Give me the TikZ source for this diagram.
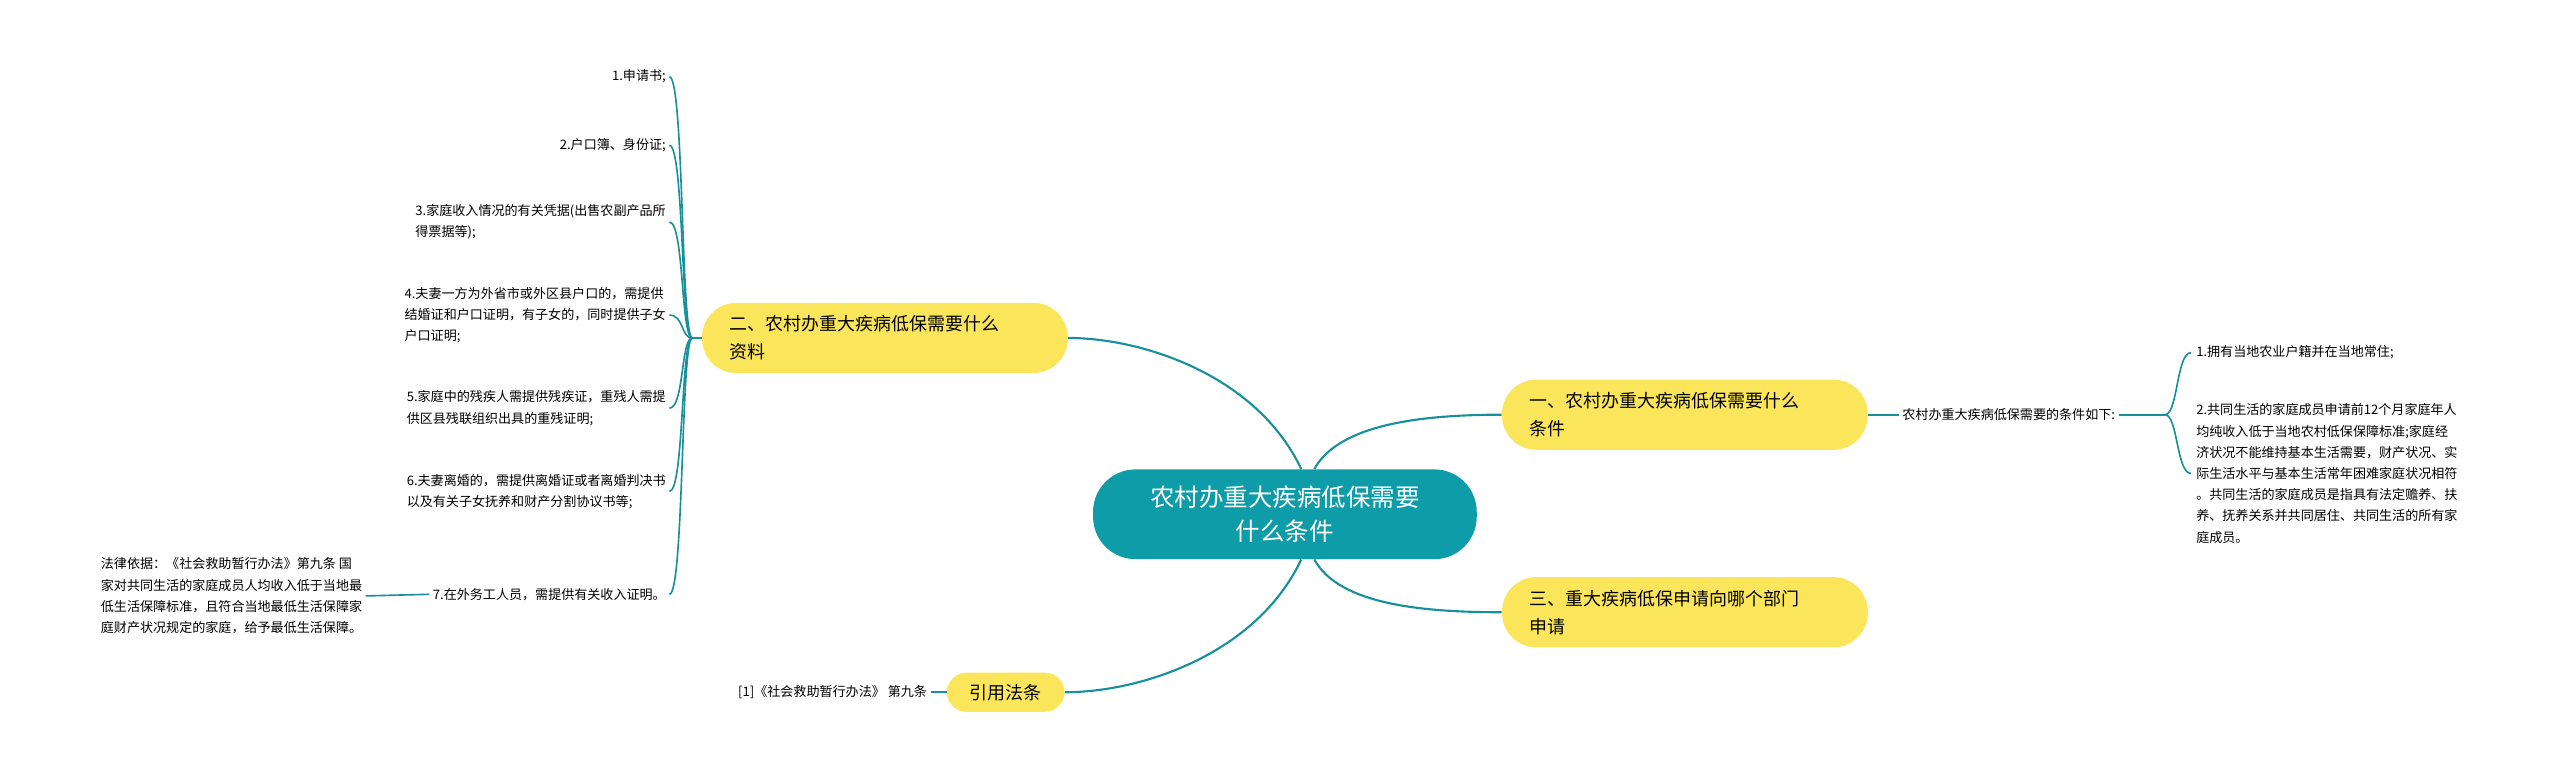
\documentclass[tikz,border=0pt]{standalone}
\usepackage{fontspec}
\setmainfont{Noto Sans CJK SC}
\begin{document}
\begin{tikzpicture}[x=1pt,y=-1pt,
  link/.style={draw=lnk,line width=1.3pt},
  yel/.style={fill=yel,rounded corners=21pt,minimum height=43pt,text width=190pt,align=left,font=\fontsize{11}{17}\selectfont,inner xsep=17pt},
  small/.style={font=\fontsize{8}{13}\selectfont,inner sep=2pt},
  item/.style={small,anchor=east,align=left}]
\definecolor{lnk}{HTML}{17909C}
\definecolor{yel}{HTML}{FBE55A}
\definecolor{teal}{HTML}{0E9CA9}
\useasboundingbox (0,0) rectangle (1568,475.9);
\node[fill=teal,rounded corners=26pt,minimum width=235pt,minimum height=55pt,text=white,align=center,font=\fontsize{15}{21}\selectfont] (c) at (787,315) {农村办重大疾病低保需要\\什么条件};
\node[yel] (n1) at (1032,254) {一、农村办重大疾病低保需要什么\\条件};
\node[yel] (n3) at (1032,375) {三、重大疾病低保申请向哪个部门\\申请};
\node[yel] (n2) at (542,207) {二、农村办重大疾病低保需要什么\\资料};
\node[fill=yel,rounded corners=12pt,minimum width=72pt,minimum height=24pt,font=\fontsize{11}{14}\selectfont] (ref) at (616,424) {引用法条};
\draw[link] (c.north) ++(10,0) coordinate (ct) .. controls (770,230) and (700,207) .. (n2.east);
\draw[link] (c.south) ++(10,0) coordinate (cb) .. controls (770,400) and (700,424) .. (ref.east);
\draw[link] (ct) ++(8,0) coordinate (ct2) .. controls (820,260) and (870,254) .. (n1.west);
\draw[link] (cb) ++(8,0) coordinate (cb2) .. controls (820,370) and (870,375) .. (n3.west);
% right side
\node[small,anchor=west] (lab) at (1163,254) {农村办重大疾病低保需要的条件如下:};
\draw[link,line width=1pt] (n1.east) -- (lab.west);
\node[small,anchor=west] (r1) at (1343,216) {1.拥有当地农业户籍并在当地常住;};
\node[small,anchor=west,align=left] (r2) at (1343,290) {2.共同生活的家庭成员申请前12个月家庭年人\\均纯收入低于当地农村低保保障标准;家庭经\\济状况不能维持基本生活需要，财产状况、实\\际生活水平与基本生活常年困难家庭状况相符\\。共同生活的家庭成员是指具有法定赡养、扶\\养、抚养关系并共同居住、共同生活的所有家\\庭成员。};
\coordinate (rb) at (1326,254);
\draw[link,line width=1pt] (lab.east) -- (rb);
\foreach \t/\yy in {r1/216,r2/290} \draw[link,line width=1pt] (rb) .. controls (1334,254) and (1333,\yy) .. ([xshift=-1pt]\t.west);
% left side
\coordinate (lb) at (424,207);
\draw[link,line width=1pt] (n2.west) -- (lb);
\node[item] (l1) at (410,47) {1.申请书;};
\node[item] (l2) at (410,89) {2.户口簿、身份证;};
\node[item] (l3) at (410,136) {3.家庭收入情况的有关凭据(出售农副产品所\\得票据等);};
\node[item] (l4) at (410,193) {4.夫妻一方为外省市或外区县户口的，需提供\\结婚证和户口证明，有子女的，同时提供子女\\户口证明;};
\node[item] (l5) at (410,250) {5.家庭中的残疾人需提供残疾证，重残人需提\\供区县残联组织出具的重残证明;};
\node[item] (l6) at (410,301) {6.夫妻离婚的，需提供离婚证或者离婚判决书\\以及有关子女抚养和财产分割协议书等;};
\node[item] (l7) at (410,364) {7.在外务工人员，需提供有关收入证明。};
\foreach \t/\yy in {l1/47,l2/89,l3/136,l4/193,l5/250,l6/301,l7/364}
  \draw[link,line width=1pt] (lb) .. controls (417,207) and (419,\yy) .. (\t.east);
\node[item] (law) at (224,365) {法律依据：《社会救助暂行办法》第九条 国\\家对共同生活的家庭成员人均收入低于当地最\\低生活保障标准，且符合当地最低生活保障家\\庭财产状况规定的家庭，给予最低生活保障。};
\draw[link,line width=1pt] (l7.west) -- (law.east);
\node[small,anchor=east] (refl) at (570,424) {[1]《社会救助暂行办法》 第九条};
\draw[link,line width=1pt] (ref.west) -- (refl.east);
\end{tikzpicture}
\end{document}
